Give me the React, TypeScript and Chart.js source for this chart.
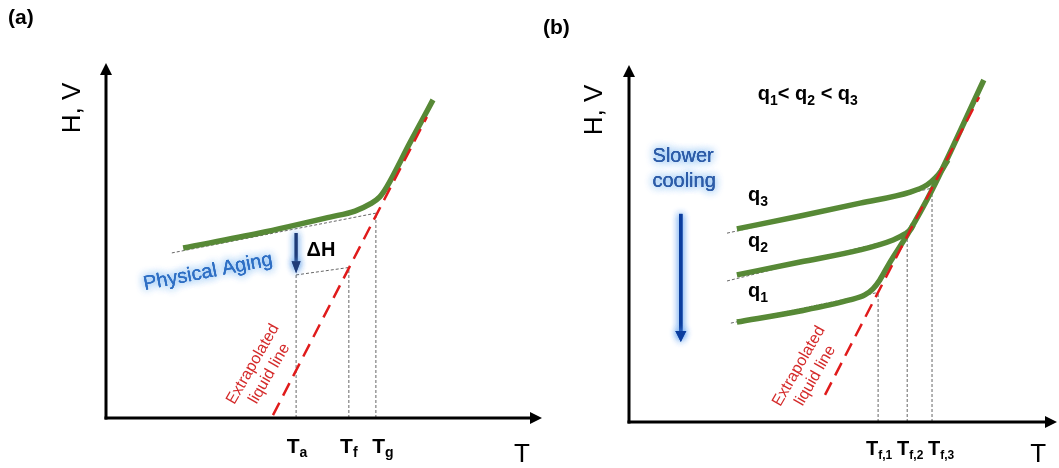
import React, { useEffect, useRef } from "react";
import { Chart, registerables } from "chart.js";

Chart.register(...registerables);

const FONT = '"Liberation Sans", Arial, Helvetica, sans-serif';

// ---------- Panel (a): glass transition and physical aging ----------
const A_CURVE_T = [17.7, 35.3, 51.4, 57.1, 60.6, 62.8, 64.4, 69.7, 75.0];
const A_CURVE_H = [47.9, 52.1, 56.6, 58.3, 60.3, 62.3, 65.1, 77.5, 89.6];
const A_LIQUID_T = [38.3, 73.6];
const A_LIQUID_H = [0.8, 84.8];
const A_GLASS_T = [15.1, 61.9];
const A_GLASS_H = [46.5, 57.7];
const A_AGED_T = [43.6, 55.7];
const A_AGED_H = [40.3, 42.4];
const A_TICK_T = [43.6, 55.7, 61.9];
const A_TICK_TOP = [40.3, 42.4, 57.7];
const A_TICK_SUB = ["a", "f", "g"];
const A_DELTA_T = [43.6, 43.6];
const A_DELTA_H = [52.1, 40.8];

// ---------- Panel (b): effect of cooling rate ----------
const B_Q1_T = [25.2, 40.0, 51.6, 55.1, 57.0, 58.6, 61.0, 65.0, 70.8, 82.9];
const B_Q1_H = [28.0, 31.1, 34.2, 35.6, 37.3, 39.8, 44.8, 52.4, 65.0, 95.8];
const B_Q2_T = [25.2, 40.0, 54.0, 61.7, 64.5, 65.9, 66.4];
const B_Q2_H = [41.2, 44.8, 48.2, 51.0, 52.7, 54.1, 55.2];
const B_Q3_T = [25.2, 40.0, 54.0, 65.7, 69.6, 71.5, 73.1, 74.5];
const B_Q3_H = [54.1, 57.7, 61.3, 64.4, 66.4, 68.3, 70.6, 73.4];
const B_LIQUID_T = [45.8, 81.8];
const B_LIQUID_H = [7.6, 91.0];
const B_Q1_GLASS_T = [23.8, 58.2];
const B_Q1_GLASS_H = [27.7, 36.3];
const B_Q2_GLASS_T = [22.9, 65.0];
const B_Q2_GLASS_H = [39.5, 52.1];
const B_Q3_GLASS_T = [22.9, 70.8];
const B_Q3_GLASS_H = [52.9, 65.5];
const B_TICK_T = [58.2, 65.0, 70.8];
const B_TICK_TOP = [36.3, 52.1, 65.5];
const B_TICK_SUB = ["f,1", "f,2", "f,3"];
const B_RATE_SUB = ["1", "2", "3"];
const B_RATE_H = [35.0, 49.0, 61.9];
const B_COOL_T = [12.1, 12.1];
const B_COOL_H = [58.3, 22.4];

const GREEN = "#578936";
const RED = "#e01b1b";
const DOT = "#666666";

const pts = (xs: number[], ys: number[]) => xs.map((x, i) => ({ x, y: ys[i] }));

const line = (data: any[], color: string, width: number, dash: number[], order: number, extra: any = {}) => ({
  data,
  showLine: true,
  borderColor: color,
  backgroundColor: color,
  borderWidth: width,
  borderDash: dash,
  order,
  pointRadius: 0,
  fill: false,
  ...extra,
});

const curve = (xs: number[], ys: number[]) =>
  line(pts(xs, ys), GREEN, 5.5, [], 1, { cubicInterpolationMode: "monotone" });
const dotted = (xs: number[], ys: number[]) => line(pts(xs, ys), DOT, 1, [3, 2], 2);
const drop = (t: number, top: number) => line(pts([t, t], [0, top]), DOT, 1, [3, 2], 2);

type Seg = { t: string; sub?: boolean };

function drawRich(
  ctx: CanvasRenderingContext2D,
  segs: Seg[],
  x: number,
  y: number,
  size: number,
  subSize: number,
  weight: string,
  align: "left" | "center",
  subDrop: number
) {
  const widths = segs.map((s) => {
    ctx.font = `${weight} ${s.sub ? subSize : size}px ${FONT}`;
    return ctx.measureText(s.t).width;
  });
  const total = widths.reduce((a, b) => a + b, 0);
  let cx = align === "center" ? x - total / 2 : x;
  ctx.textAlign = "left";
  ctx.textBaseline = "alphabetic";
  segs.forEach((s, i) => {
    ctx.font = `${weight} ${s.sub ? subSize : size}px ${FONT}`;
    ctx.fillText(s.t, cx, s.sub ? y + subDrop : y);
    cx += widths[i];
  });
}

function drawAxes(chart: any) {
  const ctx: CanvasRenderingContext2D = chart.ctx;
  const { left, right, top, bottom } = chart.chartArea;
  ctx.save();
  ctx.strokeStyle = "#000";
  ctx.fillStyle = "#000";
  ctx.lineWidth = 3;
  ctx.beginPath();
  ctx.moveTo(left, bottom + 1.5);
  ctx.lineTo(left, top + 10);
  ctx.stroke();
  ctx.beginPath();
  ctx.moveTo(left - 1.5, bottom);
  ctx.lineTo(right - 10, bottom);
  ctx.stroke();
  ctx.beginPath();
  ctx.moveTo(left, top);
  ctx.lineTo(left - 6, top + 12);
  ctx.lineTo(left + 6, top + 12);
  ctx.closePath();
  ctx.fill();
  ctx.beginPath();
  ctx.moveTo(right, bottom);
  ctx.lineTo(right - 12, bottom - 6);
  ctx.lineTo(right - 12, bottom + 6);
  ctx.closePath();
  ctx.fill();
  ctx.restore();
}

function glowArrow(
  ctx: CanvasRenderingContext2D,
  x: number,
  y0: number,
  y1: number,
  color: string,
  width: number,
  glow: string,
  headLen: number,
  headW: number
) {
  ctx.save();
  ctx.shadowColor = glow;
  ctx.shadowBlur = 7;
  for (let k = 0; k < 2; k++) {
    ctx.strokeStyle = color;
    ctx.fillStyle = color;
    ctx.lineWidth = width;
    ctx.beginPath();
    ctx.moveTo(x, y0);
    ctx.lineTo(x, y1 - headLen + 1);
    ctx.stroke();
    ctx.beginPath();
    ctx.moveTo(x, y1);
    ctx.lineTo(x - headW / 2, y1 - headLen);
    ctx.lineTo(x + headW / 2, y1 - headLen);
    ctx.closePath();
    ctx.fill();
  }
  ctx.restore();
}

function glowText(
  ctx: CanvasRenderingContext2D,
  text: string,
  x: number,
  y: number,
  angle: number,
  font: string,
  color: string,
  glow: string
) {
  ctx.save();
  ctx.translate(x, y);
  ctx.rotate(angle);
  ctx.font = font;
  ctx.textAlign = "center";
  ctx.textBaseline = "middle";
  ctx.fillStyle = color;
  ctx.shadowColor = glow;
  ctx.shadowBlur = 8;
  ctx.fillText(text, 0, 0);
  ctx.fillText(text, 0, 0);
  ctx.shadowBlur = 0;
  ctx.fillText(text, 0, 0);
  ctx.restore();
}

function rotatedLines(
  ctx: CanvasRenderingContext2D,
  lines: string[],
  x: number,
  y: number,
  angle: number,
  font: string,
  color: string,
  gap: number
) {
  ctx.save();
  ctx.translate(x, y);
  ctx.rotate(angle);
  ctx.font = font;
  ctx.textAlign = "center";
  ctx.textBaseline = "middle";
  ctx.fillStyle = color;
  lines.forEach((l, i) => ctx.fillText(l, 0, (i - (lines.length - 1) / 2) * gap));
  ctx.restore();
}

function axisTitles(ctx: CanvasRenderingContext2D, chart: any, yTitleX: number, yTitleY: number, tX: number, tBase: number) {
  ctx.save();
  ctx.fillStyle = "#000";
  ctx.font = `26px ${FONT}`;
  ctx.textAlign = "center";
  ctx.textBaseline = "alphabetic";
  ctx.fillText("T", chart.scales.x.getPixelForValue(tX), tBase);
  ctx.translate(yTitleX, yTitleY);
  ctx.rotate(-Math.PI / 2);
  ctx.textBaseline = "middle";
  ctx.fillText("H, V", 0, 0);
  ctx.restore();
}

// small horizontal nudges for the temperature labels under the axis
const A_TICK_NUDGE = [1, 0, 7];
const B_TICK_NUDGE = [1, 3, 9];

const panelAPlugin = {
  id: "panelA",
  afterDatasetsDraw(chart: any) {
    const ctx: CanvasRenderingContext2D = chart.ctx;
    const X = (v: number) => chart.scales.x.getPixelForValue(v);
    const Y = (v: number) => chart.scales.y.getPixelForValue(v);
    const { bottom } = chart.chartArea;
    drawAxes(chart);

    glowArrow(ctx, X(A_DELTA_T[0]), Y(A_DELTA_H[0]), Y(A_DELTA_H[1]), "#1f3c78", 3, "rgba(95,160,235,0.95)", 12, 9);

    ctx.save();
    ctx.fillStyle = "#000";
    ctx.font = `bold 20px ${FONT}`;
    ctx.textAlign = "center";
    ctx.textBaseline = "alphabetic";
    ctx.fillText("\u0394H", X(49.3), Y(45.6));
    ctx.restore();

    glowText(ctx, "Physical Aging", X(23.4), Y(41.1), (-11 * Math.PI) / 180, `20px ${FONT}`, "#2f6fc4", "rgba(110,175,240,0.95)");
    rotatedLines(ctx, ["Extrapolated", "liquid line"], X(35.6), Y(13.8), (-60 * Math.PI) / 180, `16px ${FONT}`, "#d42a2a", 19);

    ctx.save();
    ctx.fillStyle = "#000";
    A_TICK_T.forEach((t, i) => {
      drawRich(ctx, [{ t: "T" }, { t: A_TICK_SUB[i], sub: true }], X(t) + A_TICK_NUDGE[i], bottom + 35, 21, 14, "bold", "center", 4);
    });
    drawRich(ctx, [{ t: "(a)" }], 8, 24, 21, 21, "bold", "left", 0);
    ctx.restore();

    axisTitles(ctx, chart, 73, 108, 95.4, 462);
  },
};

const panelBPlugin = {
  id: "panelB",
  afterDatasetsDraw(chart: any) {
    const ctx: CanvasRenderingContext2D = chart.ctx;
    const X = (v: number) => chart.scales.x.getPixelForValue(v);
    const Y = (v: number) => chart.scales.y.getPixelForValue(v);
    const { bottom } = chart.chartArea;
    drawAxes(chart);

    glowArrow(ctx, X(B_COOL_T[0]), Y(B_COOL_H[0]), Y(B_COOL_H[1]), "#0b3d9e", 3.5, "rgba(95,160,240,0.95)", 11, 11);

    glowText(ctx, "Slower", X(5.4) + 31, Y(74.2) - 1, 0, `20px ${FONT}`, "#2d5ca8", "rgba(110,175,240,0.95)");
    glowText(ctx, "cooling", X(5.4) + 32, Y(67.2) - 1, 0, `20px ${FONT}`, "#2d5ca8", "rgba(110,175,240,0.95)");

    rotatedLines(ctx, ["Extrapolated", "liquid line"], X(41.6), Y(14.3), (-60 * Math.PI) / 180, `16px ${FONT}`, "#d42a2a", 19);

    ctx.save();
    ctx.fillStyle = "#000";
    B_RATE_SUB.forEach((s, i) => {
      drawRich(ctx, [{ t: "q" }, { t: s, sub: true }], X(27.8), Y(B_RATE_H[i]), 20, 14, "bold", "left", 5);
    });
    drawRich(
      ctx,
      [
        { t: "q" },
        { t: "1", sub: true },
        { t: "< " },
        { t: "q" },
        { t: "2", sub: true },
        { t: " < " },
        { t: "q" },
        { t: "3", sub: true },
      ],
      X(30.1),
      Y(90.2),
      20,
      14,
      "bold",
      "left",
      5
    );
    B_TICK_T.forEach((t, i) => {
      drawRich(ctx, [{ t: "T" }, { t: B_TICK_SUB[i], sub: true }], X(t) + B_TICK_NUDGE[i], bottom + 33, 20, 12, "bold", "center", 4);
    });
    drawRich(ctx, [{ t: "(b)" }], 13, 34, 21, 21, "bold", "left", 0);
    ctx.restore();

    axisTitles(ctx, chart, 65, 110, 95.6, 462);
  },
};

const baseOptions = (padding: any) => ({
  animation: false,
  responsive: false,
  devicePixelRatio: 1,
  events: [],
  layout: { padding },
  plugins: { legend: { display: false }, tooltip: { enabled: false } },
  elements: { point: { radius: 0 }, line: { tension: 0 } },
  scales: {
    x: { type: "linear", min: 0, max: 100, display: false },
    y: { type: "linear", min: 0, max: 100, display: false },
  },
});

const configA = () => ({
  type: "scatter",
  data: {
    datasets: [
      line(pts(A_LIQUID_T, A_LIQUID_H), RED, 2.5, [14, 8], 0),
      curve(A_CURVE_T, A_CURVE_H),
      dotted(A_GLASS_T, A_GLASS_H),
      dotted(A_AGED_T, A_AGED_H),
      ...A_TICK_T.map((t, i) => drop(t, A_TICK_TOP[i])),
    ],
  },
  options: baseOptions({ left: 106, right: 18, top: 63, bottom: 50 }),
  plugins: [panelAPlugin],
});

const configB = () => ({
  type: "scatter",
  data: {
    datasets: [
      line(pts(B_LIQUID_T, B_LIQUID_H), RED, 2.5, [14, 8], 0),
      curve(B_Q1_T, B_Q1_H),
      curve(B_Q2_T, B_Q2_H),
      curve(B_Q3_T, B_Q3_H),
      dotted(B_Q1_GLASS_T, B_Q1_GLASS_H),
      dotted(B_Q2_GLASS_T, B_Q2_GLASS_H),
      dotted(B_Q3_GLASS_T, B_Q3_GLASS_H),
      ...B_TICK_T.map((t, i) => drop(t, B_TICK_TOP[i])),
    ],
  },
  options: baseOptions({ left: 99, right: 2, top: 65, bottom: 46 }),
  plugins: [panelBPlugin],
});

function Panel({ left, width, config }: { left: number; width: number; config: () => any }) {
  const ref = useRef<HTMLCanvasElement>(null);
  useEffect(() => {
    const chart = new Chart(ref.current as HTMLCanvasElement, config());
    return () => chart.destroy();
  }, [config]);
  return (
    <canvas
      ref={ref}
      width={width}
      height={468}
      style={{ position: "absolute", left, top: 0, width, height: 468 }}
    />
  );
}

export default function App() {
  return (
    <div
      style={{
        position: "fixed",
        left: 0,
        top: 0,
        width: 1059,
        height: 468,
        background: "#ffffff",
        overflow: "hidden",
      }}
    >
      <Panel left={0} width={560} config={configA} />
      <Panel left={530} width={529} config={configB} />
    </div>
  );
}
